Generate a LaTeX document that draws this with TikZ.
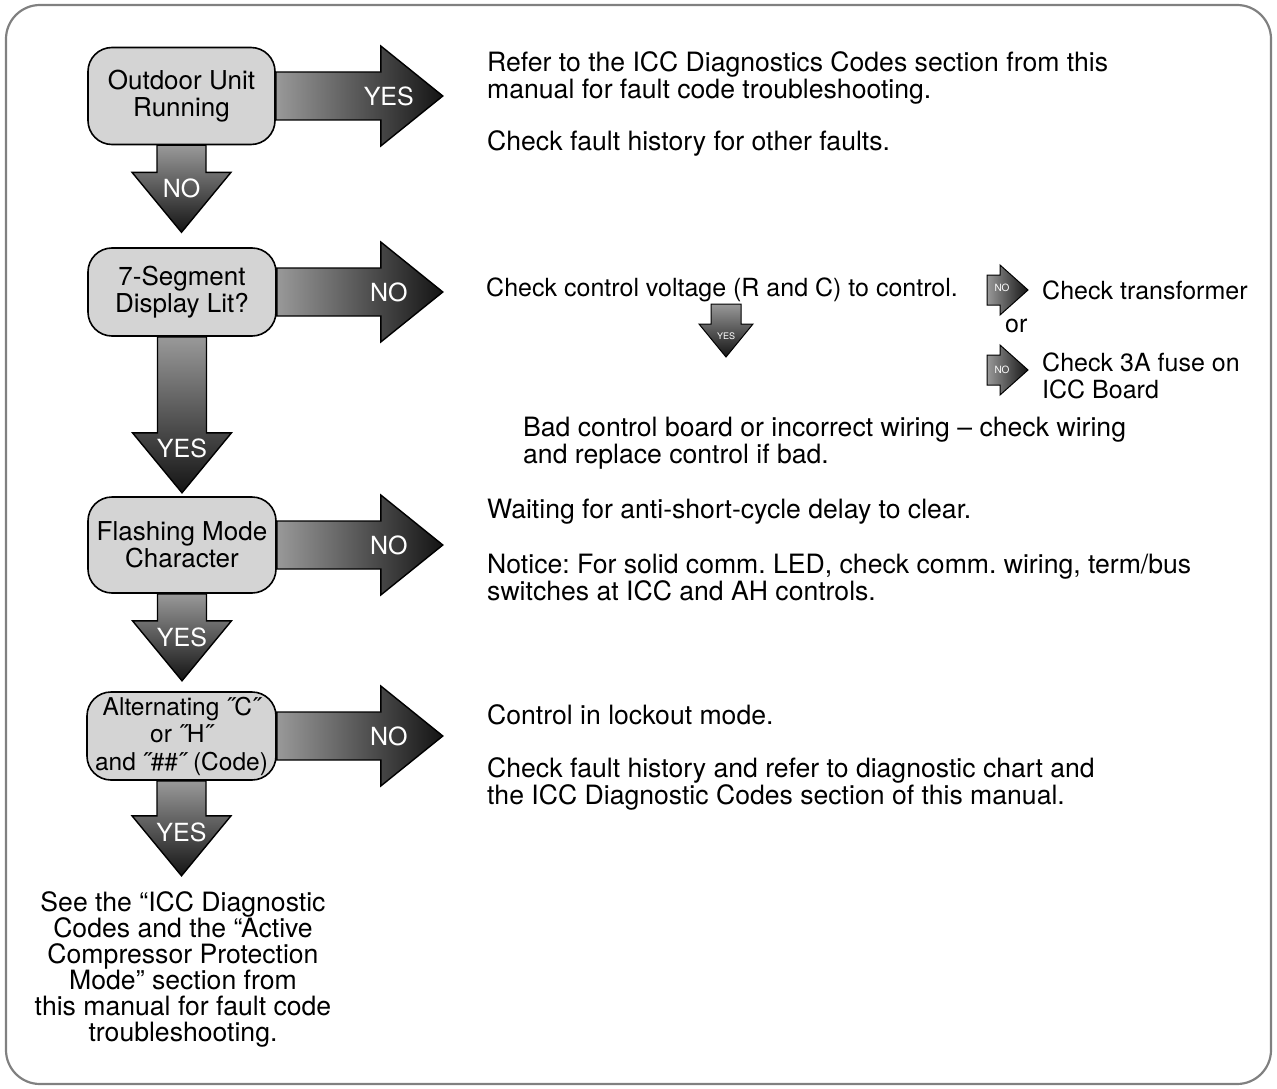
\documentclass[tikz,border=0pt]{standalone}
\usepackage{fontspec}
\setmainfont{TeX Gyre Heros}
\usepackage{xcolor}
\usepackage{tikz}
\frenchspacing

\tikzset{
  qbox/.style={draw,line width=1.6pt,fill=black!17,rounded corners=24pt,align=center,inner sep=0pt,font=\fontsize{26}{26.5}\selectfont},
  fatright/.style={draw,line width=1.4pt,line join=miter,left color=black!40,right color=black!92},
  fatdown/.style={draw,line width=1.4pt,line join=miter,top color=black!40,bottom color=black!92},
  arrowlbl/.style={text=white,inner sep=0pt,font=\fontsize{25}{25}\selectfont},
  tinylbl/.style={text=white,inner sep=0pt,font=\fontsize{9}{9}\selectfont},
  txt/.style={anchor=north west,inner sep=0pt,align=left,font=\fontsize{26.6}{27}\selectfont},
  smalltxt/.style={txt,font=\fontsize{25}{27}\selectfont},
}

\begin{document}
\begin{tikzpicture}[x=1pt,y=-1pt]
  \useasboundingbox (0,0) rectangle (1277,1089);
  \draw[black!50,line width=2.2pt,rounded corners=34pt] (6,5) rectangle (1271,1084);

  % decision boxes
  \node[qbox,minimum width=187pt,minimum height=97pt] (q1) at (181.5,96) {Outdoor Unit\\Running};
  \node[qbox,minimum width=188pt,minimum height=88pt] (q2) at (182,292) {7-Segment\\Display Lit?};
  \node[qbox,minimum width=188pt,minimum height=96pt] (q3) at (182,545) {Flashing Mode\\Character};
  \node[qbox,minimum width=189pt,minimum height=88pt,font=\fontsize{24.5}{27.5}\selectfont] (q4) at (181.5,736) {Alternating ˝C˝\\or ˝H˝\\and ˝\#\#˝ (Code)};

  % sideways arrows
  \draw[fatright] (q1.east) ++(0,-24) -- ++(105,0) -- ++(0,-26) -- ++(62,50) -- ++(-62,50) -- ++(0,-26) -- ++(-105,0) -- cycle;
  \draw[fatright] (q2.east) ++(0,-24) -- ++(104,0) -- ++(0,-26) -- ++(62,50) -- ++(-62,50) -- ++(0,-26) -- ++(-104,0) -- cycle;
  \draw[fatright] (q3.east) ++(0,-24) -- ++(104,0) -- ++(0,-26) -- ++(62,50) -- ++(-62,50) -- ++(0,-26) -- ++(-104,0) -- cycle;
  \draw[fatright] (q4.east) ++(0,-24) -- ++(104,0) -- ++(0,-26) -- ++(62,50) -- ++(-62,50) -- ++(0,-26) -- ++(-104,0) -- cycle;
  \node[arrowlbl] (y1) at ([xshift=113pt]q1.east) {YES};
  \node[arrowlbl] (n2) at ([xshift=112pt]q2.east) {NO};
  \node[arrowlbl] (n3) at ([xshift=112pt]q3.east) {NO};
  \node[arrowlbl] (n4) at ([xshift=112pt]q4.east) {NO};

  % downward arrows
  \draw[fatdown] (q1.south) ++(-24.5,0) -- ++(0,27) -- ++(-25,0) -- ++(49.5,60) -- ++(49.5,-60) -- ++(-25,0) -- ++(0,-27) -- cycle;
  \draw[fatdown] (q2.south) ++(-24.5,0) -- ++(0,96) -- ++(-25,0) -- ++(49.5,60) -- ++(49.5,-60) -- ++(-25,0) -- ++(0,-96) -- cycle;
  \draw[fatdown] (q3.south) ++(-24.5,0) -- ++(0,27) -- ++(-25,0) -- ++(49.5,60) -- ++(49.5,-60) -- ++(-25,0) -- ++(0,-27) -- cycle;
  \draw[fatdown] (q4.south) ++(-24.5,0) -- ++(0,35) -- ++(-25,0) -- ++(49.5,60) -- ++(49.5,-60) -- ++(-25,0) -- ++(0,-35) -- cycle;
  \node[arrowlbl] (d1) at ([yshift=-43pt]q1.south) {NO};
  \node[arrowlbl] (d2) at ([yshift=-112pt]q2.south) {YES};
  \node[arrowlbl] (d3) at ([yshift=-44pt]q3.south) {YES};
  \node[arrowlbl] (d4) at ([yshift=-52pt]q4.south) {YES};

  % right hand notes
  \node[txt] (t1) at (487,51) {Refer to the ICC Diagnostics Codes section from this\\manual for fault code troubleshooting.};
  \node[txt] (t1b) at (487,130) {Check fault history for other faults.};
  \node[smalltxt,anchor=west] (t2) at (486,290) {Check control voltage (R and C) to control.};
  \node[smalltxt,anchor=west] (xfm) at (1042,290) {Check transformer};
  \node[smalltxt,anchor=base west] (orw) at (1005,332) {or};
  \node[smalltxt] (fuse) at (1042,353) {Check 3A fuse on\\ICC Board};
  \node[txt] (bad) at (523,417) {Bad control board or incorrect wiring – check wiring\\and replace control if bad.};
  \node[txt] (wait) at (487,499) {Waiting for anti-short-cycle delay to clear.};
  \node[txt] (note) at (487,554) {Notice: For solid comm. LED, check comm. wiring, term/bus\\switches at ICC and AH controls.};
  \node[txt] (lock) at (487,704) {Control in lockout mode.};
  \node[txt] (hist) at (487,757) {Check fault history and refer to diagnostic chart and\\the ICC Diagnostic Codes section of this manual.};
  \node[txt,anchor=north,align=center,font=\fontsize{26.6}{26}\selectfont] (see) at (183,891) {See the “ICC Diagnostic\\Codes and the “Active\\Compressor Protection\\Mode” section from\\this manual for fault code\\troubleshooting.};

  % small arrows
  \draw[fatright,line width=1pt] ([xshift=-14pt]xfm.west) -- ++(-28,-25) -- ++(0,10) -- ++(-13,0) -- ++(0,30) -- ++(13,0) -- ++(0,10) -- cycle;
  \draw[fatright,line width=1pt] ([xshift=-14pt,yshift=-17pt]fuse.north west) -- ++(-28,-25) -- ++(0,10) -- ++(-13,0) -- ++(0,30) -- ++(13,0) -- ++(0,10) -- cycle;
  \draw[fatdown,line width=1pt] (711,304) -- ++(0,20) -- ++(-12,0) -- ++(27,33) -- ++(27,-33) -- ++(-12,0) -- ++(0,-20) -- cycle;
  \node[tinylbl,font=\fontsize{10}{10}\selectfont] (sn1) at (1002,288) {NO};
  \node[tinylbl,font=\fontsize{10}{10}\selectfont] (sn2) at (1002,370) {NO};
  \node[tinylbl] (sy1) at (726,336) {YES};
\end{tikzpicture}
\end{document}
